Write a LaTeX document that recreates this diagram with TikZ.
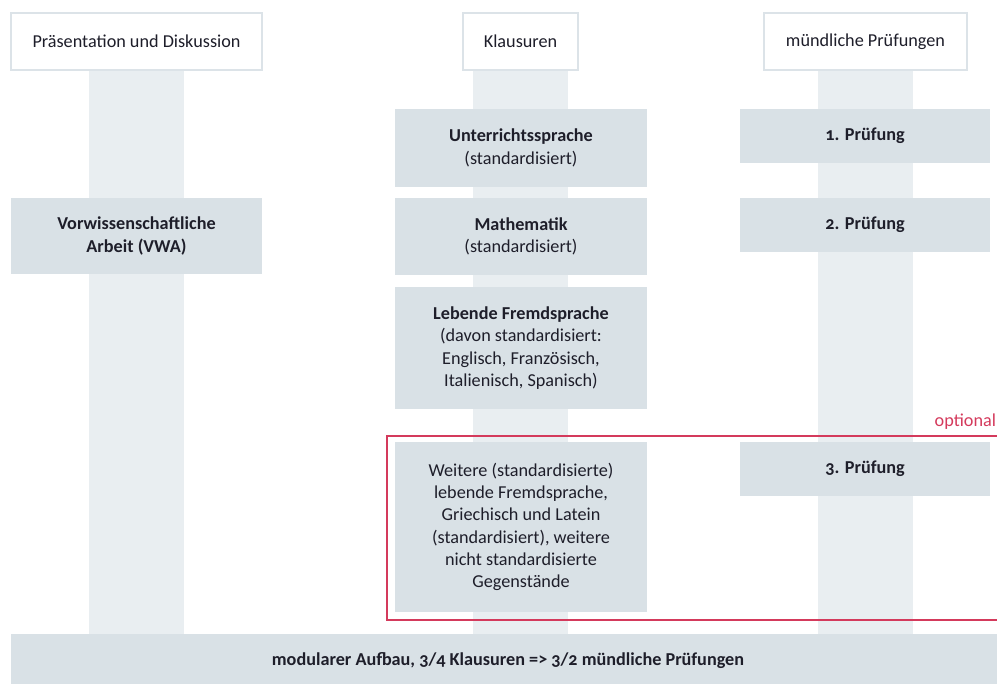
\documentclass[tikz,border=0pt]{standalone}
\usepackage{fontspec}
\setmainfont{Carlito}[Numbers=OldStyle]
\definecolor{stripc}{HTML}{E9EEF1}
\definecolor{boxc}{HTML}{D9E1E6}
\definecolor{headc}{HTML}{DCE3E8}
\definecolor{txtc}{HTML}{1E1E2A}
\definecolor{redc}{HTML}{D43A5C}
\begin{document}
\begin{tikzpicture}[x=1pt,y=-1pt,
  every node/.style={text=txtc,font=\fontsize{18.2}{22.3}\selectfont,align=center,inner sep=0pt,outer sep=0pt},
  headbox/.style={draw=headc,line width=1.2pt,fill=white,minimum height=57pt},
  graybox/.style={fill=boxc,minimum width=252pt},
  strip/.style={fill=stripc}]
\useasboundingbox (0,0) rectangle (997,684);
\clip (0,0) rectangle (997,684);
% column strips
\fill[strip] (89,13) rectangle (184,634);
\fill[strip] (473,13) rectangle (568,634);
\fill[strip] (818,13) rectangle (913,634);
% headers
\node[headbox,minimum width=251pt] (h1) at (136.5,41.5) {Präsentation und Diskussion};
\node[headbox,minimum width=115pt] (h2) at (520.5,41.5) {Klausuren};
\node[headbox,minimum width=203pt] (h3) at (865.5,41.5) {mündliche Prüfungen};
% boxes column 1
\node[graybox,minimum width=251pt,minimum height=76pt] (vwa) at (136.5,236) {\textbf{Vorwissenschaftliche}\\\textbf{Arbeit (VWA)}};
% column 2
\node[graybox,minimum height=78pt] (unt) at (521,148) {\textbf{Unterrichtssprache}\\(standardisiert)};
\node[graybox,minimum height=77pt] (mat) at (521,236.5) {\textbf{Mathematik}\\(standardisiert)};
\node[graybox,minimum height=122pt] (leb) at (521,348) {\textbf{Lebende Fremdsprache}\\(davon standardisiert:\\Englisch, Französisch,\\Italienisch, Spanisch)};
\node[graybox,minimum height=170pt] (wei) at (521,527) {Weitere (standardisierte)\\lebende Fremdsprache,\\Griechisch und Latein\\(standardisiert), weitere\\nicht standardisierte\\Gegenstände};
% column 3
\node[graybox,minimum width=250pt,minimum height=54pt] (p1) at (865,136) {\textbf{1. Prüfung}};
\node[graybox,minimum width=250pt,minimum height=54pt] (p2) at (865,225) {\textbf{2. Prüfung}};
\node[graybox,minimum width=250pt,minimum height=54pt] (p3) at (865,469) {\textbf{3. Prüfung}};
% optional frame
\draw[redc,line width=1.2pt] (1005,436) -- (387,436) -- (387,620) -- (1005,620);
\node[text=redc,anchor=east] (opt) at (996,422) {optional};
% bottom bar
\fill[boxc] (11,634) rectangle (1000,690);
\node (bot) at (508,661) {\textbf{modularer Aufbau, 3/4 Klausuren => 3/2 mündliche Prüfungen}};
\end{tikzpicture}
\end{document}
